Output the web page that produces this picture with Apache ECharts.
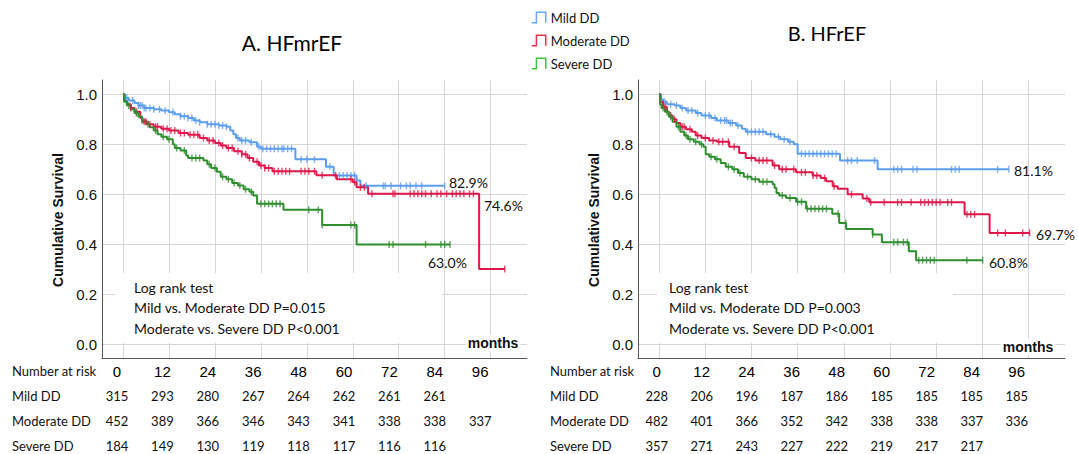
<!DOCTYPE html>
<html>
<head>
<meta charset="utf-8">
<script src="https://cdn.jsdelivr.net/npm/echarts@6/dist/echarts.min.js"></script>
<style>
html,body{margin:0;padding:0;background:#fff;}
#c{width:1078px;height:454px;}
</style>
</head>
<body>
<div id="c"></div>
<script>
// ---------- DATA ----------
const seriesNames = ['Mild DD', 'Moderate DD', 'Severe DD'];
const panelTitles = ['A. HFmrEF', 'B. HFrEF'];
const monthTicks = [0, 12, 24, 36, 48, 60, 72, 84, 96];
const survTicks = [0, 0.2, 0.4, 0.6, 0.8, 1.0];

// Panel A (HFmrEF): step curves [month, survival]
const aMild = [[0,1],[0.5,0.985],[1.5,0.975],[3,0.965],[4,0.955],[5.5,0.945],[8,0.94],[10,0.935],[12,0.928],[13.5,0.92],[15,0.912],[17,0.905],[18.5,0.895],[20,0.888],[22,0.88],[25,0.875],[27,0.87],[28,0.855],[28.8,0.84],[29.5,0.825],[30.5,0.815],[33,0.808],[35,0.79],[36,0.782],[45,0.74],[53,0.71],[55,0.675],[61,0.655],[62,0.634],[84,0.634]];
const aModerate = [[0,1],[0.3,0.975],[1,0.96],[2,0.945],[3,0.93],[4.5,0.905],[5,0.89],[6.5,0.88],[8,0.87],[10,0.862],[12,0.855],[14.5,0.845],[17,0.838],[20,0.825],[22,0.815],[24,0.805],[25.5,0.795],[27,0.785],[29,0.772],[31,0.76],[32.5,0.745],[34,0.73],[35.5,0.715],[37,0.705],[39,0.692],[50.5,0.676],[55.8,0.66],[60,0.648],[61,0.628],[64,0.602],[93,0.302],[99.7,0.302]];
const aSevere = [[0,1],[0.3,0.97],[1,0.955],[2,0.94],[3,0.925],[4,0.91],[5,0.895],[6,0.88],[7,0.868],[8,0.855],[9,0.84],[10,0.83],[11.5,0.82],[13,0.8],[13.5,0.785],[15,0.775],[16.5,0.755],[17,0.745],[21,0.735],[22,0.72],[23,0.705],[24.5,0.69],[25.5,0.67],[27,0.66],[28.5,0.645],[30,0.635],[31.5,0.62],[33,0.61],[34,0.595],[35,0.562],[41.9,0.538],[52,0.478],[61,0.4],[85.4,0.4]];
// Panel A censor times (months)
const aMildCens = [1,2.5,4,4.5,5,5.5,6,7,8,9.5,11,13,15,16,17,18,19,20,22,23,24,25,26,27,30,31,32,33.5,35.5,36.5,37.5,38.5,39.5,40.5,41.5,42,43,44,46.5,48,50,54,56.5,57.5,58.5,59.5,60.5,63.5,68,68.5,70,72.5,74,75,76.5,78,84];
const aModerateCens = [2,3.5,5.5,6,7,8.5,9,10.5,11.5,12.5,13.5,15,16,17.5,18.5,19.5,21,22.5,23.5,25,26,27.5,28.5,30,31,32,33,35,36,37,38,39.5,40.5,41.5,42.5,43.5,46.5,47.5,48.5,50,52,55.5,59.5,60.5,62,63,65,70.5,71,75,76,77,78,79,80.5,82,83,84.5,86,87,88,89,90.5,91.5,99.7];
const aSevereCens = [1.5,3.5,5,6.5,8.5,10.5,12,14,16,18,19,20,22.5,24,26,27.5,29,30.5,32,33.5,36,37,38,39,40,41,48.5,51,52,59.5,60.5,69.5,70.5,79,83,84,85.4];

// Panel B (HFrEF)
const bMild = [[0,1],[0.5,0.98],[1,0.97],[2,0.96],[4,0.955],[5.5,0.945],[7,0.935],[9.5,0.925],[11,0.915],[13.5,0.905],[15,0.895],[18,0.885],[20,0.875],[21.5,0.862],[22.5,0.85],[27.8,0.84],[30,0.83],[31.5,0.82],[33.5,0.81],[35,0.8],[36,0.762],[47,0.735],[56.8,0.7],[90.9,0.7]];
const bModerate = [[0,1],[0.3,0.97],[1,0.95],[2,0.93],[2.5,0.915],[3.5,0.9],[4.5,0.885],[5.5,0.87],[7,0.86],[8.5,0.85],[9.5,0.835],[11,0.825],[13,0.815],[15,0.81],[18.2,0.79],[20.8,0.765],[22.5,0.745],[25,0.735],[29.5,0.715],[31.2,0.7],[35.6,0.688],[39.9,0.675],[42,0.665],[43.4,0.652],[45.1,0.632],[46.4,0.622],[49,0.6],[52.9,0.583],[54.6,0.568],[79.4,0.52],[85.9,0.446],[96.3,0.446]];
const bSevere = [[0,1],[0.2,0.96],[0.6,0.945],[1.5,0.93],[2.5,0.91],[3.5,0.89],[4.5,0.87],[5.5,0.85],[6.5,0.835],[7.5,0.82],[9,0.81],[10.5,0.8],[11.5,0.79],[12.1,0.76],[13,0.75],[14.5,0.74],[16,0.725],[17.3,0.71],[19,0.7],[20.5,0.685],[22,0.67],[24,0.66],[26,0.65],[29.5,0.64],[30,0.625],[30.5,0.605],[31.2,0.595],[33,0.585],[35.6,0.57],[38.2,0.542],[45,0.522],[46.8,0.486],[48.6,0.462],[55.5,0.44],[57.9,0.409],[64.9,0.373],[66.8,0.337],[84.1,0.337]];
const bMildCens = [1.5,3,4.5,6,7.5,8.5,10,12,13,14.5,16,17,17.5,18.5,19,20.5,23,24,25,26,27,29,31,32.5,34,37,38,39,40,41,42,43,44,45,46,49,50,51.5,56,61,62,63,66,67,76,77,78,88,90.9];
const bModerateCens = [1.5,3,4,6,6.5,8,10,12,14,15.5,16.5,18,19.5,24,26,27,28,30,32,33,35,37,38,40,41,43,45.5,50,54,55,58.5,62,63,65.5,68,69,70,71,72,73,75,76,80,81,82,88,90,94.5,96.3];
const bSevereCens = [1,2,3,5,7,8,9.5,11,13.5,15,18,19.5,21,23,25,27,28,32,34,36,37,38.5,39.5,40.5,41.5,42.5,43.5,46.5,48.5,55.5,61,62,63.5,64.5,67.5,68.5,69.5,70.5,71.5,80,84.1];

// Number at risk tables
const riskA = [[315,293,280,267,264,262,261,261,null],[452,389,366,346,343,341,338,338,337],[184,149,130,119,118,117,116,116,null]];
const riskB = [[228,206,196,187,186,185,185,185,185],[482,401,366,352,342,338,338,337,336],[357,271,243,227,222,219,217,217,null]];

// Annotation texts
const logRankA = ['Log rank test', 'Mild vs. Moderate DD P=0.015', 'Moderate vs. Severe DD P<0.001'];
const logRankB = ['Log rank test', 'Mild vs. Moderate DD P=0.003', 'Moderate vs. Severe DD P<0.001'];
const endPctA = ['82.9%', '74.6%', '63.0%'];
const endPctB = ['81.1%', '69.7%', '60.8%'];

// ---------- STYLE ----------
const lineColors = ['#5c9ded', '#e0174a', '#2f8f2f'];
const legendColors = ['#6aa7f8', '#e8334f', '#3cc43c'];
const calibri = "Lato, 'Open Sans', sans-serif";
const arial = "'Liberation Sans', Arial, sans-serif";

function survAt(curve, t) {
  let s = curve[0][1];
  for (const p of curve) { if (p[0] <= t) s = p[1]; else break; }
  return s;
}

const curvesA = [aMild, aModerate, aSevere];
const censA = [aMildCens, aModerateCens, aSevereCens];
const curvesB = [bMild, bModerate, bSevere];
const censB = [bMildCens, bModerateCens, bSevereCens];

const grids = [
  {left: 102, top: 80, width: 425, height: 278},
  {left: 638, top: 80, width: 427, height: 278}
];
const xAxes = [0,1].map(i => ({
  gridIndex: i, type: 'value', min: -5.5, max: 105.5,
  axisLine: {show: true, onZero: false, lineStyle: {color: '#555', width: 1}},
  axisTick: {show: false}, axisLabel: {show: false}, splitLine: {show: false}
}));
const yAxes = [0,1].map(i => ({
  gridIndex: i, type: 'value', min: -0.054, max: 1.057,
  axisLine: {show: true, onZero: false, lineStyle: {color: '#555', width: 1}},
  axisTick: {show: false},
  axisLabel: {customValues: survTicks, formatter: v => v.toFixed(1), fontFamily: arial, fontSize: 15, color: '#111', margin: 5},
  splitLine: {show: false}
}));

const series = [];
[0,1].forEach(p => {
  // grid lines drawn through the axes' scales
  series.push({
    type: 'line', name: 'grid' + p, xAxisIndex: p, yAxisIndex: p, z: 0,
    data: [[0, 0]], showSymbol: false, lineStyle: {opacity: 0}, silent: true,
    markLine: {
      z: 0, silent: true, symbol: 'none', label: {show: false},
      lineStyle: {color: '#d6d6d6', type: 'solid', width: 1},
      data: monthTicks.map(m => ({xAxis: m})).concat(survTicks.map(s => ({yAxis: s})))
    }
  });
  const curves = p === 0 ? curvesA : curvesB;
  const cens = p === 0 ? censA : censB;
  curves.forEach((c, k) => {
    series.push({
      type: 'line', name: seriesNames[k], xAxisIndex: p, yAxisIndex: p, z: 3,
      step: 'end', data: c, showSymbol: false, symbol: 'none',
      color: lineColors[k], lineStyle: {color: lineColors[k], width: 2}
    });
    series.push({
      type: 'scatter', name: seriesNames[k] + ' censored', xAxisIndex: p, yAxisIndex: p, z: 4,
      data: cens[k].map(t => [t, survAt(c, t)]),
      symbol: 'rect', symbolSize: [1.4, 7], itemStyle: {color: lineColors[k]}
    });
  });
});

// ---------- ANNOTATIONS ----------
const graphic = [];
function txt(text, x, y, font, opts) {
  graphic.push(Object.assign({type: 'text', x: x, y: y, z: 10,
    style: Object.assign({text: text, font: font, fill: '#111', textAlign: 'left', textVerticalAlign: 'middle'}, (opts && opts.style) || {})
  }, (opts && opts.el) || {}));
}
// white boxes for log-rank text
graphic.push({type: 'rect', z: 2, shape: {x: 115, y: 273, width: 327, height: 70}, style: {fill: '#fff'}});
graphic.push({type: 'rect', z: 2, shape: {x: 657, y: 273, width: 296, height: 70}, style: {fill: '#fff'}});
// titles
txt(panelTitles[0], 292, 42, '21px ' + calibri, {style: {textAlign: 'center', fill: '#000'}});
txt(panelTitles[1], 827, 33, '20px ' + calibri, {style: {textAlign: 'center', fill: '#000'}});
// y axis titles
txt('Cumulative Survival', 58, 220, 'bold 14px ' + arial, {el: {rotation: Math.PI / 2}, style: {textAlign: 'center'}});
txt('Cumulative Survival', 594, 220, 'bold 14px ' + arial, {el: {rotation: Math.PI / 2}, style: {textAlign: 'center'}});
// months
txt('months', 493, 343, 'bold 14px ' + arial, {style: {textAlign: 'center', backgroundColor: '#fff', padding: [1, 2]}});
txt('months', 1028, 347, 'bold 14px ' + arial, {style: {textAlign: 'center', backgroundColor: '#fff', padding: [1, 2]}});
// log rank
[[logRankA, 134], [logRankB, 669]].forEach(([lines, x]) => {
  [287, 307, 328].forEach((y, i) => txt(lines[i], x, y, '14px ' + calibri));
});
// end percentages
[[449, 182], [484, 205], [428, 262]].forEach((pos, i) => txt(endPctA[i], pos[0], pos[1], '14px ' + calibri));
[[1014, 170], [1036, 234], [989, 262]].forEach((pos, i) => txt(endPctB[i], pos[0], pos[1], '14px ' + calibri));
// risk tables
const rowY = [396, 421, 446];
[[riskA, 12, 117, 45.4], [riskB, 550, 656.7, 45.0]].forEach(([tbl, lx, x0, dx]) => {
  txt('Number at risk', lx, 371, '13px ' + calibri);
  monthTicks.forEach((m, j) => txt(String(m), x0 + dx * j, 371, '15px ' + arial, {style: {textAlign: 'center', fill: '#000'}}));
  seriesNames.forEach((n, r) => {
    txt(n, lx, rowY[r], '13px ' + calibri);
    tbl[r].forEach((v, j) => { if (v !== null) txt(String(v), x0 + dx * j, rowY[r], '13px ' + calibri, {style: {textAlign: 'center'}}); });
  });
});

const chart = echarts.init(document.getElementById('c'), null, {renderer: 'svg'});
chart.setOption({
  animation: false,
  backgroundColor: '#fff',
  grid: grids, xAxis: xAxes, yAxis: yAxes, series: series,
  legend: {
    data: seriesNames.map((n, k) => ({name: n, itemStyle: {color: 'rgba(0,0,0,0)', borderColor: legendColors[k], borderWidth: 1.5}})),
    orient: 'vertical', left: 526, top: 6, itemGap: 10, itemWidth: 14, itemHeight: 14,
    icon: 'path://M0,12 L4,12 L4,3 L12,3 L12,12',
    textStyle: {fontFamily: calibri, fontSize: 13, color: '#111'},
    selectedMode: false
  },
  graphic: graphic
});
</script>
</body>
</html>
